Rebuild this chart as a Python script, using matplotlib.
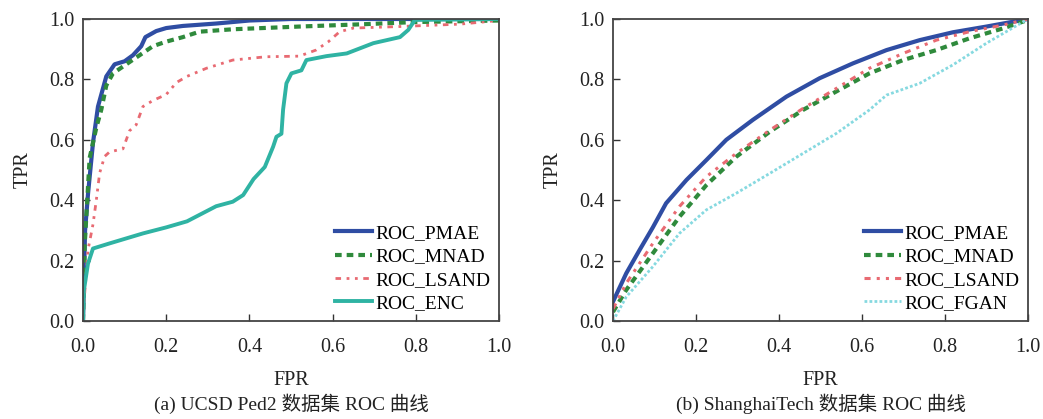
import matplotlib
matplotlib.use('Agg')
from matplotlib import pyplot as plt

# (a) UCSD Ped2
a_pmae_x = [0.0, 0.005, 0.012, 0.024, 0.036, 0.056, 0.076, 0.10, 0.12, 0.14, 0.15, 0.176, 0.20, 0.24, 0.32, 0.40, 0.5, 1.0]
a_pmae_y = [0.0, 0.30, 0.42, 0.59, 0.71, 0.81, 0.85, 0.86, 0.88, 0.91, 0.94, 0.96, 0.97, 0.977, 0.985, 0.995, 1.0, 1.0]

a_mnad_x = [0.0, 0.004, 0.016, 0.032, 0.044, 0.056, 0.072, 0.104, 0.136, 0.168, 0.20, 0.24, 0.28, 0.36, 0.52, 0.68, 0.80, 1.0]
a_mnad_y = [0.0, 0.25, 0.54, 0.64, 0.70, 0.78, 0.82, 0.85, 0.88, 0.91, 0.925, 0.94, 0.958, 0.966, 0.975, 0.983, 0.99, 0.995]

a_lsand_x = [0.0, 0.004, 0.012, 0.024, 0.032, 0.04, 0.052, 0.064, 0.096, 0.112, 0.128, 0.144, 0.168, 0.20, 0.225, 0.25,
             0.297, 0.36, 0.44, 0.52, 0.56, 0.59, 0.617, 0.65, 0.76, 0.906, 1.0]
a_lsand_y = [0.0, 0.09, 0.235, 0.32, 0.40, 0.49, 0.545, 0.56, 0.57, 0.63, 0.65, 0.71, 0.73, 0.75, 0.79, 0.81,
             0.837, 0.864, 0.875, 0.877, 0.897, 0.925, 0.958, 0.97, 0.975, 0.983, 0.995]

a_enc_x = [0.0, 0.002, 0.012, 0.024, 0.064, 0.144, 0.20, 0.25, 0.32, 0.36, 0.385, 0.41, 0.437, 0.457, 0.465, 0.477,
           0.481, 0.489, 0.501, 0.525, 0.537, 0.585, 0.634, 0.698, 0.762, 0.782, 0.798, 1.0]
a_enc_y = [0.0, 0.10, 0.19, 0.24, 0.257, 0.29, 0.31, 0.33, 0.38, 0.395, 0.417, 0.47, 0.51, 0.577, 0.61, 0.62,
           0.70, 0.787, 0.82, 0.83, 0.864, 0.877, 0.886, 0.92, 0.94, 0.964, 0.997, 1.0]

# (b) ShanghaiTech
b_pmae_x = [0.0, 0.032, 0.064, 0.096, 0.128, 0.177, 0.225, 0.273, 0.337, 0.418, 0.498, 0.578, 0.659, 0.739, 0.819, 0.90, 1.0]
b_pmae_y = [0.064, 0.158, 0.235, 0.31, 0.39, 0.467, 0.533, 0.60, 0.666, 0.743, 0.804, 0.853, 0.897, 0.93, 0.956, 0.975, 1.0]

b_mnad_x = [0.0, 0.032, 0.096, 0.16, 0.225, 0.297, 0.378, 0.458, 0.538, 0.618, 0.699, 0.779, 0.859, 0.94, 1.0]
b_mnad_y = [0.03, 0.103, 0.224, 0.345, 0.45, 0.544, 0.627, 0.699, 0.76, 0.82, 0.864, 0.897, 0.936, 0.969, 0.997]

b_lsand_x = [0.0, 0.032, 0.096, 0.16, 0.225, 0.297, 0.378, 0.458, 0.538, 0.618, 0.699, 0.779, 0.859, 0.94, 1.0]
b_lsand_y = [0.04, 0.125, 0.257, 0.379, 0.478, 0.555, 0.632, 0.704, 0.77, 0.837, 0.886, 0.93, 0.958, 0.98, 1.0]

b_fgan_x = [0.0, 0.032, 0.096, 0.16, 0.225, 0.297, 0.378, 0.458, 0.538, 0.618, 0.659, 0.739, 0.819, 0.90, 1.0]
b_fgan_y = [0.0, 0.08, 0.18, 0.29, 0.368, 0.423, 0.489, 0.555, 0.621, 0.699, 0.748, 0.787, 0.848, 0.92, 1.0]

ticks = [0.0, 0.2, 0.4, 0.6, 0.8, 1.0]
tick_labels = ['0.0', '0.2', '0.4', '0.6', '0.8', '1.0']

plt.rcParams['font.family'] = ['Liberation Serif', 'Noto Sans CJK SC']
plt.rcParams['font.size'] = 14.5

BLUE = '#2f4da3'
GREEN = '#2f8a3c'
RED = '#e86a72'
TEAL = '#2fb3a3'
CYAN = '#86d9e0'

fig = plt.figure(figsize=(10.43, 4.19), dpi=100)
ax1 = fig.add_axes([83 / 1043, 98 / 419, 416 / 1043, 302 / 419])
ax2 = fig.add_axes([613 / 1043, 98 / 419, 415 / 1043, 302 / 419])

ax1.plot(a_pmae_x, a_pmae_y, color=BLUE, lw=3, label='ROC_PMAE')
ax1.plot(a_mnad_x, a_mnad_y, color=GREEN, lw=3, dashes=(1.6, 1.2), label='ROC_MNAD')
ax1.plot(a_lsand_x, a_lsand_y, color=RED, lw=2, dashes=(2, 2, 1, 2, 1, 2), label='ROC_LSAND')
ax1.plot(a_enc_x, a_enc_y, color=TEAL, lw=2.8, label='ROC_ENC')

ax2.plot(b_pmae_x, b_pmae_y, color=BLUE, lw=3, label='ROC_PMAE')
ax2.plot(b_mnad_x, b_mnad_y, color=GREEN, lw=3, dashes=(1.6, 1.2), label='ROC_MNAD')
ax2.plot(b_lsand_x, b_lsand_y, color=RED, lw=2.2, dashes=(2, 2, 1, 2, 1, 2), label='ROC_LSAND')
ax2.plot(b_fgan_x, b_fgan_y, color=CYAN, lw=2, dashes=(1, 0.8), label='ROC_FGAN')

captions = ['(a) UCSD Ped2 数据集 ROC 曲线', '(b) ShanghaiTech 数据集 ROC 曲线']
for ax, cap in zip([ax1, ax2], captions):
    ax.set_xlim(0, 1)
    ax.set_ylim(0, 1)
    ax.set_xticks(ticks)
    ax.set_xticklabels(tick_labels)
    ax.set_yticks(ticks)
    ax.set_yticklabels(tick_labels)
    ax.tick_params(direction='in', length=5, width=1, colors='#333333', labelcolor='#222222')
    ax.tick_params(axis='x', pad=12)
    ax.tick_params(axis='y', pad=6)
    for s in ax.spines.values():
        s.set_color('#444444')
        s.set_linewidth(1.3)
    ax.set_xlabel('FPR', labelpad=10, color='#222222')
    ax.set_ylabel('TPR', labelpad=12, color='#222222')
    ax.legend(loc='lower right', frameon=False, handlelength=1.9, handletextpad=0.15,
              labelspacing=0.3, borderaxespad=0.05, fontsize=14)
    ax.text(0.5, -0.275, cap, transform=ax.transAxes, ha='center', va='center',
            fontsize=14, color='#222222')

fig.savefig('out.png', dpi=100)
